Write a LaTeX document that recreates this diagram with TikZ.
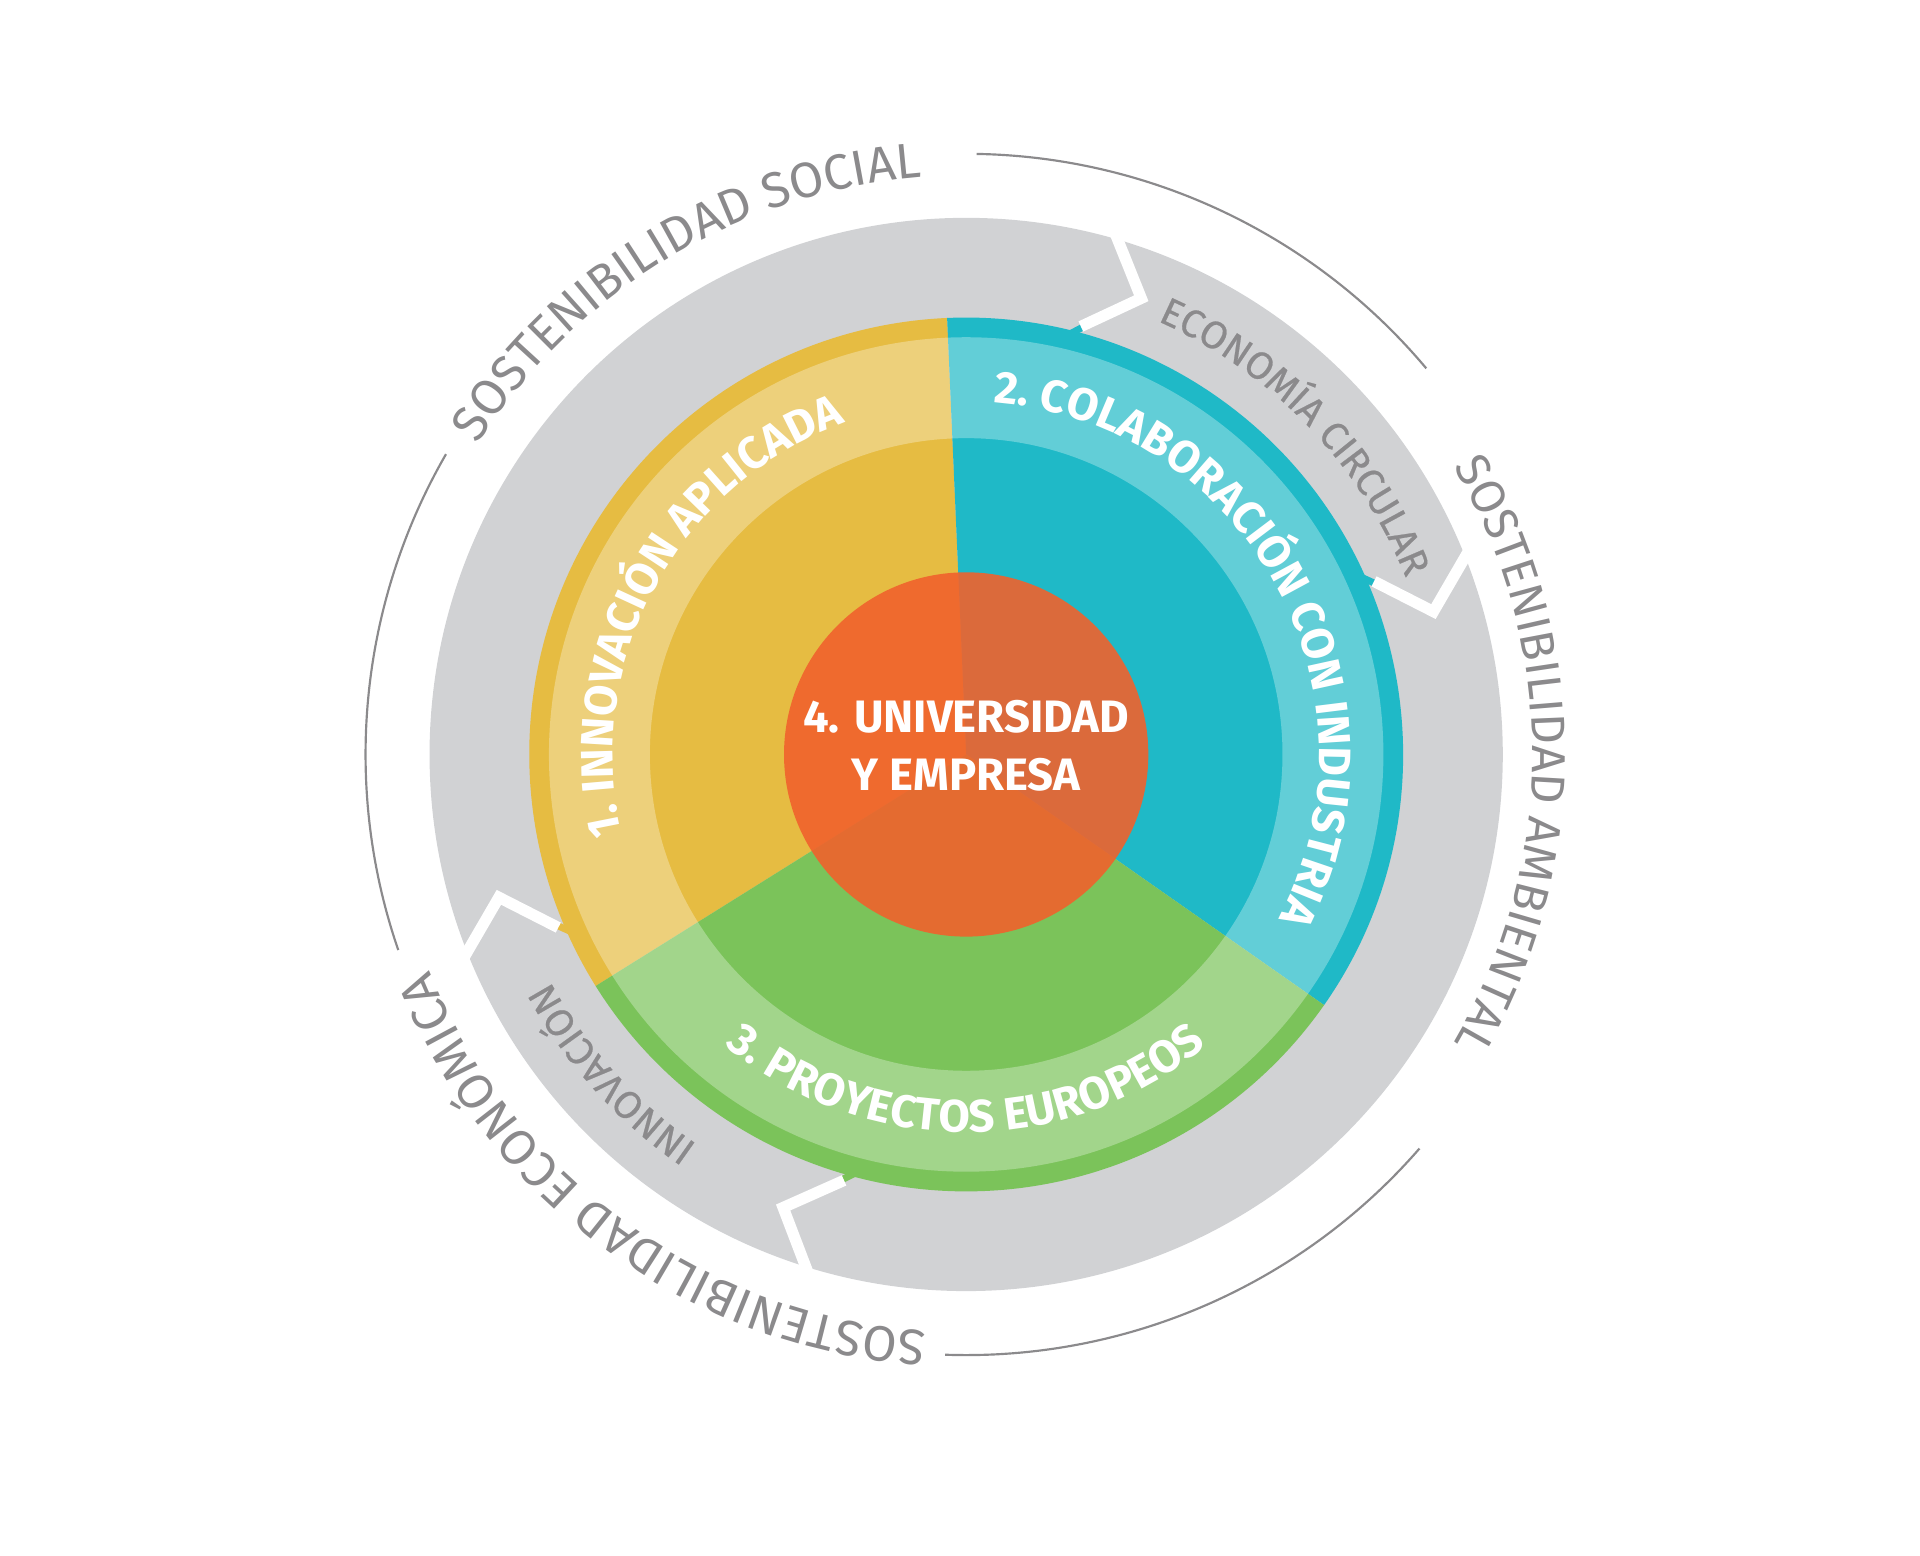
\documentclass[tikz,border=0pt]{standalone}
\usepackage{fontspec}
\setmainfont{Fira Sans}
\usepackage{tikz}
\usetikzlibrary{positioning,calc,decorations.text}
\definecolor{ringgray}{HTML}{D1D2D4}
\definecolor{txtgray}{HTML}{8B8A8C}
\definecolor{yel}{HTML}{E6BC42}
\definecolor{teal}{HTML}{1FB9C7}
\definecolor{grn}{HTML}{7BC35A}
\definecolor{core}{HTML}{F0622C}

\begin{document}
\begin{tikzpicture}
\tikzstyle{outer}=[decorate, decoration={text along path, text align=center, text color=txtgray}]
\tikzstyle{thin}=[draw=txtgray, line width=0.5pt]
\tikzstyle{chev}=[draw=white, line width=2.6pt, line join=miter]
\useasboundingbox (0,0) rectangle (15.6,12.64);
\coordinate (c) at (7.85,6.51);
% gray ring and the four arrow notches
\fill[ringgray] (c) circle (4.36);
\foreach \a/\col in {69/teal, 17/teal, 197/yel, 248/grn}{
	\draw[\col, line width=1.6pt] ($(c)+(\a+7.5:3.5)$) -- ($(c)+(\a+2:3.84)$);
	\draw[chev] ($(c)+(\a+5.5:4.45)$) -- ($(c)+(\a:3.97)$) -- ($(c)+(\a+6:3.6)$);
}
% sectors
\fill[yel] (c) -- ++(92.5:3.55) arc[start angle=92.5, end angle=212, radius=3.55] -- cycle;
\fill[teal] (c) -- ++(-35:3.55) arc[start angle=-35, end angle=92.5, radius=3.55] -- cycle;
\fill[grn] (c) -- ++(212:3.55) arc[start angle=212, end angle=325, radius=3.55] -- cycle;
\fill[white, opacity=0.3, even odd rule] (c) circle (3.39) (c) circle (2.57);
% centre
\fill[core, opacity=0.9] (c) circle (1.48);
\node[text=white, font=\bfseries\fontsize{10.5}{13.5}\selectfont, align=center] (core) at ($(c)+(0,0.07)$) {4. UNIVERSIDAD\\Y EMPRESA};
% labels on the ring
\path[outer, decoration={text={|\bfseries\fontsize{10.5}{13}\selectfont\color{white}|1. INNOVACIÓN APLICADA}}] ($(c)+(205:2.87)$) arc[start angle=205, end angle=98, radius=2.87];
\path[outer, decoration={text={|\bfseries\fontsize{10.5}{13}\selectfont\color{white}|2. COLABORACIÓN CON INDUSTRIA}}] ($(c)+(95:2.87)$) arc[start angle=95, end angle=-37, radius=2.87];
\path[outer, decoration={text={|\bfseries\fontsize{10.5}{13}\selectfont\color{white}|3. PROYECTOS EUROPEOS}}] ($(c)+(220:3.07)$) arc[start angle=220, end angle=320, radius=3.07];
\path[outer, decoration={text={|\fontsize{9}{11}\selectfont\addfontfeature{FakeBold=0.6}|ECONOMÍA CIRCULAR}}] ($(c)+(75:3.85)$) arc[start angle=75, end angle=13, radius=3.85];
\path[outer, decoration={text={|\fontsize{9}{11}\selectfont\addfontfeature{FakeBold=0.6}|INNOVACIÓN}}] ($(c)+(252:3.85)$) arc[start angle=252, end angle=192, radius=3.85];
% outer texts and arcs
\path[outer, decoration={text={|\fontsize{11.5}{14}\selectfont|SOSTENIBILIDAD SOCIAL}}] ($(c)+(155:4.7)$) arc[start angle=155, end angle=87, radius=4.7];
\path[outer, decoration={text={|\fontsize{11}{14}\selectfont|SOSTENIBILIDAD AMBIENTAL}}] ($(c)+(37:4.6)$) arc[start angle=37, end angle=-37, radius=4.6];
\path[outer, decoration={text={|\fontsize{11.5}{14}\selectfont|SOSTENIBILIDAD ECONÓMICA}}] ($(c)+(-88:4.7)$) arc[start angle=-88, end angle=-164, radius=4.7];
\draw[thin] ($(c)+(89:4.88)$) arc[start angle=89, end angle=40, radius=4.88];
\draw[thin] ($(c)+(-41:4.88)$) arc[start angle=-41, end angle=-92, radius=4.88];
\draw[thin] ($(c)+(150:4.88)$) arc[start angle=150, end angle=199, radius=4.88];
\end{tikzpicture}
\end{document}
